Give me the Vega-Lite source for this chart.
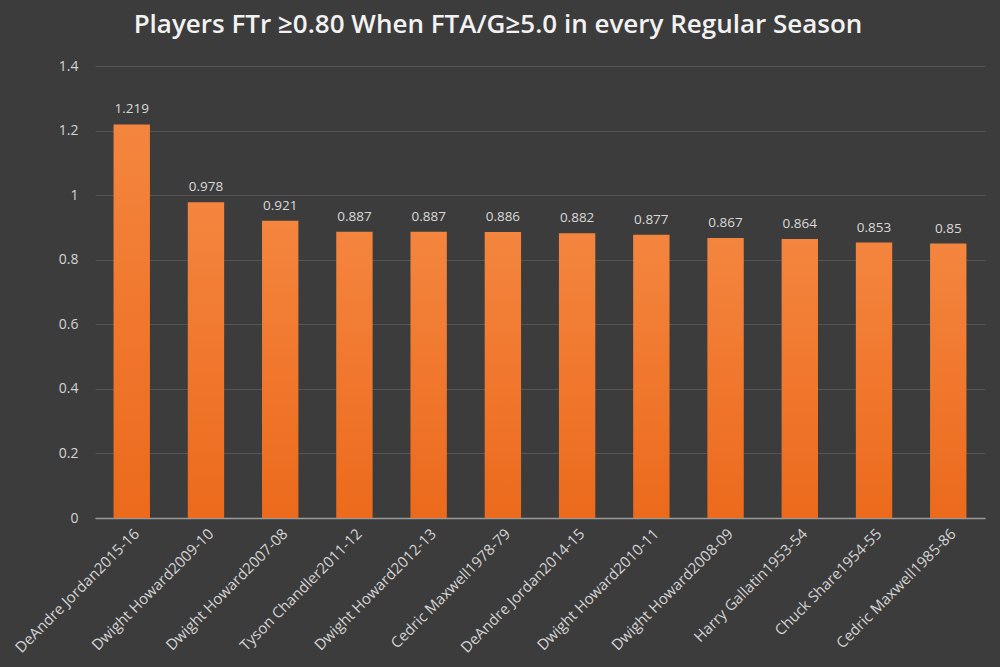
{
  "$schema": "https://vega.github.io/schema/vega-lite/v6.json",
  "autosize": "none",
  "width": 890,
  "height": 452,
  "padding": {"left": 95, "top": 66, "right": 15, "bottom": 149},
  "background": "#3c3c3c",
  "title": {
    "text": "Players FTr ≥0.80 When FTA/G≥5.0 in every Regular Season",
    "font": "Open Sans",
    "fontSize": 26,
    "fontWeight": 600,
    "color": "#f2f2f2",
    "anchor": "middle",
    "dx": -42,
    "offset": 21
  },
  "data": {
    "values": [
      {"player": "DeAndre Jordan2015-16", "ftr": 1.219},
      {"player": "Dwight Howard2009-10", "ftr": 0.978},
      {"player": "Dwight Howard2007-08", "ftr": 0.921},
      {"player": "Tyson Chandler2011-12", "ftr": 0.887},
      {"player": "Dwight Howard2012-13", "ftr": 0.887},
      {"player": "Cedric Maxwell1978-79", "ftr": 0.886},
      {"player": "DeAndre Jordan2014-15", "ftr": 0.882},
      {"player": "Dwight Howard2010-11", "ftr": 0.877},
      {"player": "Dwight Howard2008-09", "ftr": 0.867},
      {"player": "Harry Gallatin1953-54", "ftr": 0.864},
      {"player": "Chuck Share1954-55", "ftr": 0.853},
      {"player": "Cedric Maxwell1985-86", "ftr": 0.85}
    ]
  },
  "config": {
    "view": {"stroke": null},
    "font": "Open Sans"
  },
  "encoding": {
    "x": {
      "field": "player",
      "type": "nominal",
      "sort": null,
      "title": null,
      "scale": {"paddingInner": 0.51, "paddingOuter": 0.25},
      "axis": {
        "labelAngle": -45,
        "labelAlign": "right",
        "labelBaseline": "top",
        "labelColor": "#d4d4d4",
        "labelFontSize": 15,
        "labelPadding": 8,
        "ticks": false,
        "domainColor": "#9a9a9a",
        "domainWidth": 1.5,
        "grid": false
      }
    },
    "y": {
      "field": "ftr",
      "type": "quantitative",
      "title": null,
      "scale": {"domain": [0, 1.4], "nice": false},
      "axis": {
        "values": [0, 0.2, 0.4, 0.6, 0.8, 1, 1.2, 1.4],
        "format": "~g",
        "labelColor": "#d4d4d4",
        "labelFontSize": 14,
        "labelPadding": 17,
        "ticks": false,
        "domain": false,
        "gridColor": "#555555",
        "gridWidth": 1
      }
    }
  },
  "layer": [
    {
      "mark": {
        "type": "bar",
        "color": {
          "gradient": "linear",
          "x1": 0, "y1": 0, "x2": 0, "y2": 1,
          "stops": [
            {"offset": 0, "color": "#f4853e"},
            {"offset": 1, "color": "#ec6a1c"}
          ]
        }
      }
    },
    {
      "mark": {"type": "text", "dy": -15, "fontSize": 13.5, "color": "#d9d9d9"},
      "encoding": {"text": {"field": "ftr", "type": "quantitative"}}
    }
  ]
}
